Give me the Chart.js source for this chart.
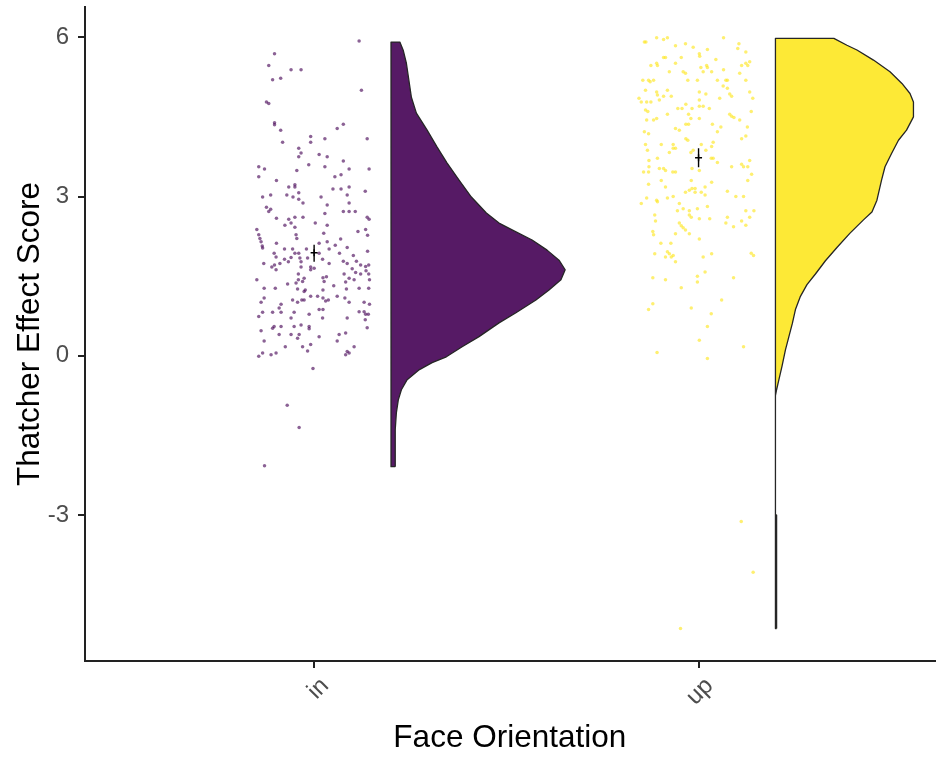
<!DOCTYPE html>
<html>
<head>
<meta charset="utf-8">
<script src="https://cdn.jsdelivr.net/npm/chart.js@4"></script>
<style>
html,body{margin:0;padding:0;background:#fff;}
canvas{display:block;}
</style>
</head>
<body>
<canvas id="c" width="940" height="759"></canvas>
<script>
const categories = ['in', 'up'];
const yTicks = [-3, 0, 3, 6];

const inJitter = [0.117,-0.103,-0.118,-0.060,-0.034,-0.108,-0.087,0.123,-0.124,-0.118,-0.103,-0.103,-0.087,0.060,0.076,-0.009,-0.009,0.028,0.138,-0.082,-0.040,-0.034,-0.040,0.013,0.034,-0.014,0.028,0.076,-0.144,-0.129,-0.045,0.091,0.143,-0.144,0.054,0.070,-0.098,-0.066,-0.050,-0.050,0.049,0.070,0.091,0.133,-0.134,-0.113,-0.071,-0.055,-0.040,-0.040,-0.029,0.018,0.086,0.091,-0.124,-0.113,-0.118,0.034,0.028,0.076,0.091,0.107,-0.098,-0.066,-0.050,-0.029,-0.076,-0.060,-0.050,0.003,0.034,0.138,0.143,-0.149,-0.144,-0.141,-0.138,-0.135,-0.134,-0.047,-0.045,0.025,0.069,0.114,0.134,0.139,-0.098,-0.077,-0.056,-0.050,-0.020,0.013,0.034,0.039,0.055,0.086,0.139,-0.104,-0.099,-0.040,-0.037,-0.034,0.013,0.066,-0.077,-0.060,-0.017,0.022,0.102,-0.131,-0.110,-0.103,-0.089,-0.067,-0.034,-0.009,0.039,0.076,0.086,0.110,0.121,0.134,0.142,-0.099,-0.041,-0.009,0.000,0.099,0.108,0.135,0.121,-0.149,-0.041,-0.026,-0.030,-0.047,-0.069,0.023,0.032,0.026,0.078,0.091,0.082,0.104,0.142,0.144,-0.130,-0.101,-0.043,-0.026,-0.023,0.023,0.051,0.084,0.117,0.142,-0.130,-0.138,-0.086,-0.056,-0.043,-0.032,-0.026,-0.009,0.009,0.023,0.030,0.037,0.060,0.080,0.091,0.130,0.144,-0.091,-0.086,-0.134,-0.144,-0.108,-0.052,-0.013,0.013,0.023,0.117,0.130,0.134,0.141,-0.060,0.022,0.086,0.133,-0.104,-0.108,-0.086,-0.052,-0.034,-0.013,-0.013,0.138,-0.138,-0.091,-0.060,-0.043,-0.039,0.013,0.065,0.082,0.060,-0.130,-0.030,-0.017,-0.009,-0.075,0.104,-0.134,-0.144,-0.112,-0.099,0.086,0.091,0.082,-0.003,-0.070,-0.039,-0.129];
const inScore = [5.93,5.69,5.47,5.39,5.39,5.20,5.23,5.00,4.78,4.75,4.39,4.35,4.25,4.28,4.36,4.13,4.02,4.09,4.09,4.02,3.91,3.82,3.75,3.79,3.75,3.60,3.56,3.67,3.56,3.52,3.49,3.52,3.52,3.37,3.37,3.41,3.30,3.18,3.22,3.18,3.14,3.14,3.18,3.10,2.99,3.03,3.03,2.99,3.07,2.95,2.88,2.99,3.03,2.88,2.80,2.76,2.72,2.84,2.68,2.72,2.72,2.72,2.59,2.57,2.61,2.61,2.46,2.50,2.42,2.50,2.46,2.61,2.57,2.38,2.28,2.21,2.15,2.07,2.03,2.28,2.21,2.31,2.20,2.34,2.38,2.27,2.12,2.01,2.01,1.93,2.01,2.12,2.15,2.01,2.08,2.04,1.97,1.93,1.86,1.93,1.84,1.77,1.93,1.93,1.82,1.85,1.84,1.82,1.89,1.74,1.67,1.71,1.74,1.77,1.67,1.67,1.74,1.78,1.74,1.78,1.71,1.68,1.71,1.62,1.54,1.62,1.65,1.64,1.57,1.60,1.54,1.43,1.43,1.46,1.40,1.37,1.35,1.47,1.49,1.40,1.54,1.46,1.39,1.43,1.54,1.43,1.27,1.27,1.26,1.21,1.24,1.24,1.32,1.26,1.27,1.27,1.09,1.01,0.97,1.05,1.01,1.05,1.05,1.12,1.12,1.09,1.03,1.05,1.12,1.09,1.01,1.01,0.97,0.90,0.82,0.82,0.74,0.82,0.82,0.78,0.87,0.87,0.83,0.83,0.78,0.78,0.71,0.71,0.71,0.68,0.55,0.52,0.55,0.55,0.58,0.55,0.51,0.53,0.47,0.40,0.40,0.33,0.40,0.36,0.40,0.43,0.28,0.28,0.17,0.09,0.21,0.17,0.17,0.05,-0.01,0.02,0.05,0.08,0.05,0.02,-0.24,-0.93,-1.35,-2.07];

const upJitter = [-0.137,-0.141,-0.109,-0.091,-0.081,0.065,-0.060,-0.034,-0.014,0.023,0.105,0.102,0.123,0.002,0.003,-0.091,-0.086,-0.045,0.045,-0.124,-0.109,-0.107,-0.060,0.006,0.021,0.023,0.112,0.123,0.128,0.133,-0.076,-0.040,-0.034,0.012,0.034,0.065,0.107,-0.145,-0.130,-0.126,-0.117,-0.028,-0.003,0.049,0.071,0.075,0.123,0.064,0.075,-0.138,-0.109,-0.107,-0.081,0.002,0.019,0.081,0.086,0.133,-0.155,-0.149,-0.135,-0.124,-0.102,-0.091,-0.071,0.002,0.055,0.141,-0.054,-0.043,-0.033,-0.017,0.002,0.012,0.028,-0.138,-0.132,-0.081,-0.026,0.081,0.086,0.092,0.137,-0.135,-0.117,-0.109,-0.020,0.002,0.107,0.036,0.058,-0.033,-0.026,-0.060,-0.050,0.127,-0.141,-0.130,0.049,-0.033,0.112,0.123,-0.138,-0.133,-0.097,-0.066,-0.060,-0.066,-0.028,0.007,0.038,0.034,-0.076,-0.020,-0.014,0.019,-0.107,-0.129,-0.129,0.033,0.038,0.049,-0.102,-0.091,-0.086,-0.017,0.002,0.086,0.112,0.117,0.128,0.133,-0.143,-0.130,-0.067,-0.060,0.138,-0.097,-0.019,0.128,-0.130,-0.086,0.017,0.034,-0.034,-0.024,-0.017,-0.009,-0.009,0.007,0.017,0.075,-0.135,-0.149,-0.109,-0.107,-0.081,-0.066,-0.050,0.097,0.117,-0.040,-0.055,-0.024,-0.003,0.023,0.123,0.144,-0.114,-0.112,-0.024,-0.019,0.002,0.029,0.075,0.133,-0.050,-0.045,-0.040,-0.034,0.071,0.091,0.112,0.123,-0.119,-0.117,-0.060,-0.024,0.002,-0.098,-0.072,-0.114,-0.081,-0.076,-0.066,-0.071,-0.086,-0.060,0.012,0.034,0.137,0.143,0.017,-0.003,-0.003,-0.119,-0.086,0.091,-0.045,0.060,-0.119,-0.130,-0.019,0.033,0.023,0.002,0.117,-0.108,0.023,0.111,0.142,-0.047];
const upScore = [5.91,5.91,5.99,5.96,5.99,5.99,5.84,5.88,5.81,5.77,5.88,5.79,5.72,5.69,5.64,5.62,5.62,5.62,5.58,5.47,5.51,5.47,5.51,5.43,5.47,5.43,5.47,5.51,5.47,5.54,5.35,5.35,5.32,5.35,5.35,5.39,5.32,5.19,5.19,5.16,5.19,5.19,5.19,5.19,5.19,5.19,5.19,5.08,5.04,5.00,4.97,4.91,5.00,4.97,4.93,4.93,4.89,4.97,4.85,4.78,4.78,4.78,4.82,4.89,4.89,4.82,4.85,4.85,4.66,4.66,4.74,4.66,4.70,4.70,4.66,4.63,4.60,4.55,4.55,4.55,4.51,4.49,4.60,4.44,4.44,4.47,4.47,4.47,4.44,4.36,4.31,4.36,4.36,4.28,4.25,4.31,4.22,4.18,4.22,4.09,4.09,4.14,3.98,3.87,3.98,3.98,3.91,3.91,4.06,3.98,4.02,3.94,3.83,3.83,3.87,3.87,3.72,3.68,3.56,3.72,3.72,3.64,3.53,3.53,3.49,3.53,3.49,3.56,3.61,3.56,3.56,3.68,3.46,3.46,3.46,3.46,3.42,3.30,3.30,3.30,3.23,3.18,3.18,3.27,3.08,3.12,3.15,3.15,3.08,3.08,3.03,3.10,2.97,2.87,2.93,2.90,2.97,3.00,2.87,3.00,3.00,2.77,2.73,2.73,2.77,2.81,2.73,2.73,2.65,2.54,2.65,2.61,2.58,2.58,2.61,2.61,2.50,2.45,2.41,2.37,2.50,2.43,2.54,2.46,2.34,2.28,2.30,2.30,2.20,2.12,2.12,1.92,1.96,1.92,1.89,1.86,1.86,1.77,1.86,1.92,1.93,1.89,1.58,1.50,1.39,1.47,1.43,1.47,1.28,1.05,0.98,0.87,0.90,0.79,0.55,0.29,0.17,0.06,-0.05,-3.12,-4.08,-5.14];

// half-violin density outline (score level, half-width in category units)
const inViolinY = [-2.09,-1.39,-1.07,-0.83,-0.64,-0.45,-0.26,-0.13,-0.02,0.17,0.36,0.62,0.81,1.05,1.24,1.43,1.62,1.80,1.99,2.18,2.37,2.50,2.69,2.99,3.31,3.63,3.93,4.25,4.57,4.87,5.51,5.75,5.91];
const inViolinW = [0.011,0.011,0.014,0.019,0.027,0.042,0.074,0.107,0.144,0.185,0.229,0.281,0.325,0.377,0.411,0.442,0.453,0.437,0.406,0.367,0.315,0.281,0.248,0.209,0.177,0.146,0.120,0.094,0.066,0.053,0.040,0.032,0.023];
const upViolinY = [-5.14,-3.00,-2.99,-0.75,-0.64,-0.45,-0.20,0.11,0.36,0.61,0.87,1.12,1.34,1.54,1.79,2.04,2.31,2.56,2.71,2.93,3.31,3.56,3.81,4.06,4.25,4.50,4.78,4.94,5.13,5.35,5.57,5.76,5.85,5.98];
const upViolinW = [0.003,0.003,0.0,0.0,0.003,0.009,0.017,0.026,0.035,0.044,0.052,0.065,0.082,0.104,0.130,0.160,0.194,0.229,0.251,0.264,0.276,0.285,0.302,0.320,0.341,0.359,0.359,0.350,0.329,0.298,0.255,0.212,0.186,0.152];

const meanScore = [1.94, 3.73];
const errLow = [1.77, 3.55];
const errHigh = [2.09, 3.91];

const fillColors = ['rgba(68,1,84,0.9)', 'rgba(253,231,37,0.92)'];
const pointColors = ['rgba(68,1,84,0.62)', 'rgba(253,231,37,0.65)'];
const FONT = "'Liberation Sans', Arial, sans-serif";

function jitterPoints(idx, jit, score) {
  const n = Math.min(jit.length, score.length);
  const out = [];
  for (let i = 0; i < n; i++) out.push({x: idx + 1 + jit[i], y: score[i]});
  return out;
}
function violinOutline(idx, ys, ws) {
  const base = idx + 1 + 0.2;
  const pts = ys.map((y, i) => ({x: base + ws[i], y: y}));
  pts.push({x: base, y: ys[ys.length - 1]});
  pts.push({x: base, y: ys[0]});
  pts.push({x: base + ws[0], y: ys[0]});
  return pts;
}

const datasets = [];
[[inViolinY, inViolinW], [upViolinY, upViolinW]].forEach((v, i) => {
  datasets.push({
    type: 'scatter', showLine: true, order: 3,
    data: violinOutline(i, v[0], v[1]),
    borderColor: '#262626', borderWidth: 1.3, backgroundColor: fillColors[i],
    fill: 'shape', pointRadius: 0, tension: 0, borderJoinStyle: 'round'
  });
});
[[inJitter, inScore], [upJitter, upScore]].forEach((p, i) => {
  datasets.push({
    type: 'scatter', order: 2,
    data: jitterPoints(i, p[0], p[1]),
    backgroundColor: pointColors[i], borderWidth: 0, pointRadius: 1.75, pointHoverRadius: 1.75
  });
});
categories.forEach((c, i) => {
  datasets.push({
    type: 'scatter', showLine: true, order: 1,
    data: [{x: i + 1, y: errLow[i]}, {x: i + 1, y: errHigh[i]}],
    borderColor: '#000', borderWidth: 1.4, pointRadius: 0, fill: false
  });
});
datasets.push({
  type: 'scatter', order: 0,
  data: meanScore.map((m, i) => ({x: i + 1, y: m})),
  pointStyle: 'cross', pointRadius: 3.5, borderColor: '#000', borderWidth: 1.4, backgroundColor: '#000'
});

new Chart(document.getElementById('c'), {
  type: 'scatter',
  data: {datasets},
  options: {
    responsive: false, animation: false, devicePixelRatio: 1,
    layout: {padding: {top: 7, right: 2, left: 0, bottom: 0}},
    plugins: {legend: {display: false}, tooltip: {enabled: false}},
    scales: {
      x: {
        type: 'linear', min: 0.404, max: 2.614,
        afterBuildTicks: s => { s.ticks = categories.map((c, i) => ({value: i + 1})); },
        afterFit: s => { s.height = 98; s.paddingLeft = 0; s.paddingRight = 0; },
        ticks: {
          callback: v => categories[v - 1], minRotation: 45, maxRotation: 45, labelOffset: 11,
          font: {family: FONT, size: 24}, color: '#4d4d4d', padding: 4, autoSkip: false
        },
        grid: {drawOnChartArea: false, drawTicks: true, tickLength: 7, color: '#222', lineWidth: 2},
        border: {display: true, color: '#222', width: 2},
        title: {display: true, text: 'Face Orientation', font: {family: FONT, size: 31.5}, color: '#000', padding: {top: 0, bottom: 2}}
      },
      y: {
        type: 'linear', min: -5.75, max: 6.57,
        afterBuildTicks: s => { s.ticks = yTicks.map(v => ({value: v})); },
        afterFit: s => { s.width = 85; s.paddingTop = 0; s.paddingBottom = 0; },
        ticks: {font: {family: FONT, size: 24}, color: '#4d4d4d', padding: 9, callback: v => String(v)},
        grid: {drawOnChartArea: false, drawTicks: true, tickLength: 7, color: '#222', lineWidth: 2},
        border: {display: true, color: '#222', width: 2},
        title: {display: true, text: 'Thatcher Effect Score', font: {family: FONT, size: 31.5}, color: '#000', padding: {top: 11, bottom: 0}}
      }
    }
  }
});
</script>
</body>
</html>
